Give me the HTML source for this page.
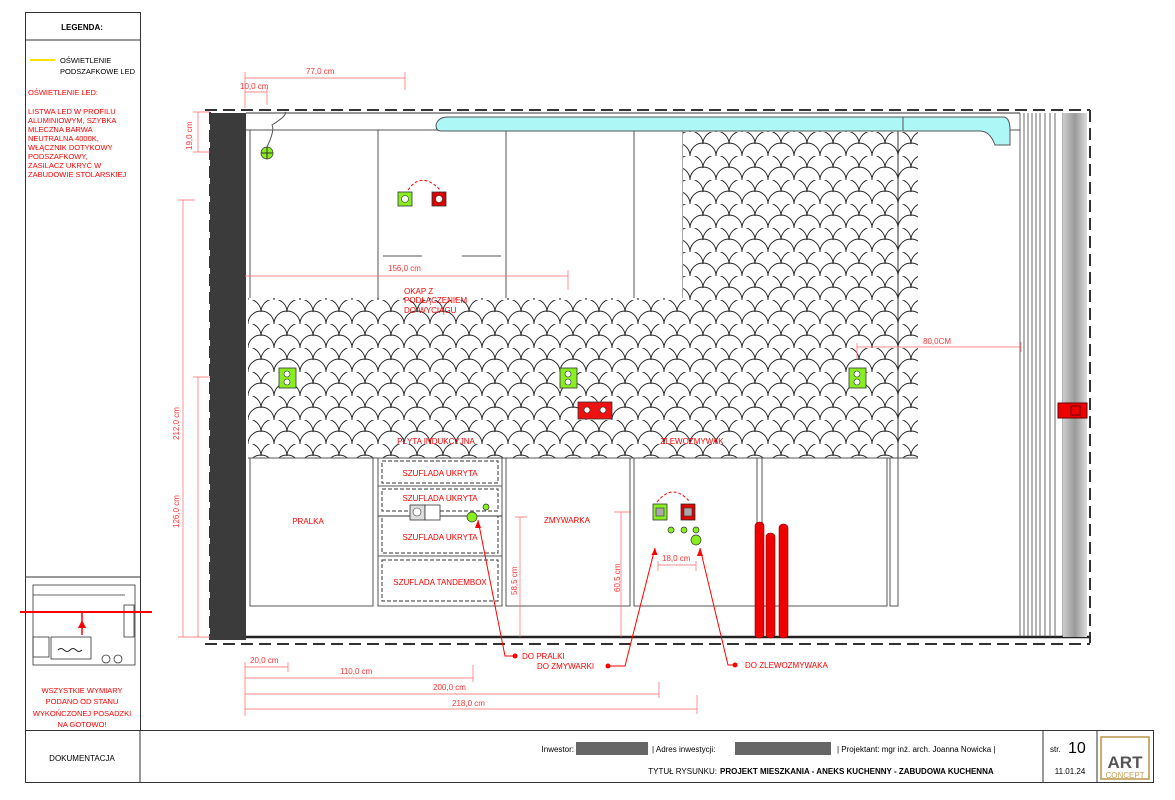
<!DOCTYPE html>
<html><head><meta charset="utf-8"><style>
body{margin:0;background:#fff;width:1175px;height:800px;overflow:hidden;font-family:"Liberation Sans","DejaVu Sans",sans-serif}
svg{position:absolute;left:0;top:0}
</style></head><body>
<svg width="1175" height="800" viewBox="0 0 1175 800" font-family="Liberation Sans, DejaVu Sans, sans-serif">
<defs>
<pattern id="sc" width="26" height="24" patternUnits="userSpaceOnUse" x="248" y="300">
<rect width="26" height="24" fill="#fff"/>
<path d="M-13 12 A13 13 0 0 1 13 12 M13 12 A13 13 0 0 1 39 12 M0 24 A13 13 0 0 1 26 24 M0 0 A13 13 0 0 1 26 0" fill="none" stroke="#222" stroke-width="0.9"/>
</pattern>
<linearGradient id="gg" x1="0" x2="1"><stop offset="0" stop-color="#ccc"/><stop offset="0.5" stop-color="#999"/><stop offset="1" stop-color="#ddd"/></linearGradient>
</defs>
<!-- left panel -->
<rect x="25.5" y="12.5" width="115" height="718" fill="none" stroke="#333"/>
<line x1="25" y1="40" x2="140" y2="40" stroke="#333"/>
<text x="82" y="30" font-size="8" font-weight="bold" text-anchor="middle">LEGENDA:</text>
<line x1="30" y1="60" x2="55" y2="60" stroke="#ffe000" stroke-width="2"/>
<text x="60" y="63" font-size="7.5">OŚWIETLENIE</text>
<text x="60" y="74" font-size="7.5">PODSZAFKOWE LED</text>
<g fill="#f00" font-size="7.5"><text x="28" y="95">OŚWIETLENIE LED:</text>
<text x="28" y="114">LISTWA LED W PROFILU</text><text x="28" y="123">ALUMINIOWYM, SZYBKA</text><text x="28" y="132">MLECZNA BARWA</text><text x="28" y="141">NEUTRALNA 4000K,</text><text x="28" y="150">WŁĄCZNIK DOTYKOWY</text><text x="28" y="159">PODSZAFKOWY,</text><text x="28" y="168">ZASILACZ UKRYĆ W</text><text x="28" y="177">ZABUDOWIE STOLARSKIEJ</text></g>
<line x1="25" y1="577" x2="140" y2="577" stroke="#333"/>
<g stroke="#333" fill="none" stroke-width="0.8"><rect x="33" y="585" width="102" height="80"/><rect x="33" y="637" width="16" height="20"/><rect x="51" y="637" width="40" height="22"/><rect x="124" y="605" width="10" height="32"/><line x1="33" y1="595" x2="125" y2="595"/><circle cx="106" cy="659" r="4"/><circle cx="118" cy="659" r="4"/></g>
<path d="M58 650 q3 -3 6 0 t6 0 t6 0 t6 0" stroke="#222" fill="none"/>
<line x1="20" y1="612" x2="152" y2="612" stroke="#f00" stroke-width="2"/>
<line x1="82" y1="612" x2="82" y2="635" stroke="#f00" stroke-width="1.5"/><path d="M78 628 L82 620 L86 628Z" fill="#f00"/>
<g fill="#f00" font-size="7.5" text-anchor="middle"><text x="82" y="693">WSZYSTKIE WYMIARY</text><text x="82" y="704">PODANO OD STANU</text><text x="82" y="716">WYKOŃCZONEJ POSADZKI</text><text x="82" y="727">NA GOTOWO!</text></g>
<!-- bottom title -->
<rect x="25.5" y="730.5" width="1128" height="52" fill="none" stroke="#333"/>
<line x1="140" y1="730" x2="140" y2="782" stroke="#333"/>
<line x1="1043" y1="730" x2="1043" y2="782" stroke="#333"/>
<line x1="1097" y1="730" x2="1097" y2="782" stroke="#333"/>
<text x="82" y="761" font-size="8" text-anchor="middle">DOKUMENTACJA</text>
<text x="574" y="752" font-size="8" text-anchor="end">Inwestor:</text>
<rect x="576" y="742" width="72" height="13" fill="#666"/>
<text x="652" y="752" font-size="8">|  Adres inwestycji:</text>
<rect x="735" y="742" width="96" height="13" fill="#666"/>
<text x="837" y="752" font-size="8">|   Projektant: mgr inż. arch. Joanna Nowicka  |</text>
<text x="717" y="774" font-size="8" text-anchor="end">TYTUŁ RYSUNKU:</text>
<text x="720" y="774" font-size="8" font-weight="bold">PROJEKT MIESZKANIA - ANEKS KUCHENNY - ZABUDOWA KUCHENNA</text>
<text x="1050" y="752" font-size="8">str.</text><text x="1068" y="753" font-size="16">10</text>
<text x="1070" y="774" font-size="8" text-anchor="middle">11.01.24</text>
<rect x="1101" y="737" width="48" height="42" fill="none" stroke="#b8964a" stroke-width="1.5"/>
<text x="1125" y="768" font-size="17" font-weight="bold" fill="#555" text-anchor="middle">ART</text>
<text x="1125" y="778" font-size="8" fill="#c9a055" text-anchor="middle">CONCEPT</text>
<!-- drawing frame -->
<line x1="205" y1="110" x2="1090" y2="110" stroke="#333" stroke-width="2" stroke-dasharray="12 6"/>
<line x1="1090" y1="110" x2="1090" y2="643" stroke="#333" stroke-width="2" stroke-dasharray="12 6"/>
<line x1="205" y1="644" x2="1090" y2="644" stroke="#333" stroke-width="2" stroke-dasharray="12 6"/>
<line x1="210" y1="112" x2="210" y2="640" stroke="#333" stroke-width="2" stroke-dasharray="12 6"/>
<rect x="210" y="113" width="36" height="527" fill="#3b3b3b"/>
<line x1="246" y1="113" x2="1020" y2="113" stroke="#333"/>
<line x1="246" y1="637" x2="1090" y2="637" stroke="#222" stroke-width="2.5"/>
<!-- upper cabinets -->
<line x1="246" y1="130" x2="1020" y2="130" stroke="#555"/>
<g stroke="#555" fill="none"><rect x="250" y="130" width="433" height="170"/><line x1="378" y1="130" x2="378" y2="300"/><line x1="506" y1="130" x2="506" y2="300"/><line x1="634" y1="130" x2="634" y2="300"/>
<line x1="383" y1="256" x2="422" y2="256"/><line x1="462" y1="256" x2="501" y2="256"/></g>
<!-- tiles -->
<path d="M248 298 H683 V130 H918 V458 H248 Z" fill="url(#sc)"/>
<line x1="898" y1="130" x2="898" y2="458" stroke="#333"/>
<line x1="248" y1="458" x2="918" y2="458" stroke="#555"/>
<!-- LED cyan -->
<path d="M448 117 H1003 Q1010 117 1010 130 V145 H995 Q990 131 980 131 H441 Q436 131 436 125 Q438 117 448 117Z" fill="#aef7f7" stroke="#555"/>
<line x1="903" y1="117" x2="903" y2="131" stroke="#555"/>
<!-- right column -->
<g stroke="#444" stroke-width="0.8"><line x1="1020" y1="113" x2="1020" y2="637"/><line x1="1024" y1="113" x2="1024" y2="637"/><line x1="1028" y1="113" x2="1028" y2="637"/><line x1="1032" y1="113" x2="1032" y2="637"/><line x1="1036" y1="113" x2="1036" y2="637"/><line x1="1040" y1="113" x2="1040" y2="637"/><line x1="1045" y1="113" x2="1045" y2="637"/><line x1="1050" y1="113" x2="1050" y2="637"/><line x1="1055" y1="113" x2="1055" y2="637"/><line x1="1063" y1="113" x2="1063" y2="637"/></g>
<rect x="1063" y="113" width="24" height="524" fill="url(#gg)"/>
<rect x="1058" y="403" width="29" height="15" fill="#e00" stroke="#600"/><rect x="1071" y="406" width="9" height="9" fill="none" stroke="#600"/>
<!-- base cabinets -->
<g stroke="#555" fill="none"><rect x="250" y="458" width="123" height="148"/><rect x="378" y="458" width="124" height="148"/><rect x="506" y="458" width="124" height="148"/><rect x="634" y="458" width="123" height="148"/><rect x="762" y="458" width="125" height="148"/><rect x="890" y="458" width="8" height="148"/>
<line x1="378" y1="486" x2="502" y2="486"/><line x1="378" y1="556" x2="502" y2="556"/></g>
<g stroke="#333" fill="none" stroke-dasharray="4 2"><rect x="382" y="461" width="116" height="22"/><rect x="382" y="489" width="116" height="22"/><rect x="382" y="516" width="116" height="37"/><rect x="382" y="560" width="116" height="41"/><line x1="378" y1="516" x2="502" y2="516"/></g>
<g fill="#f00" font-size="8" text-anchor="middle"><text x="308" y="524">PRALKA</text><text x="440" y="476">SZUFLADA UKRYTA</text><text x="440" y="501">SZUFLADA UKRYTA</text><text x="440" y="540">SZUFLADA UKRYTA</text><text x="440" y="585">SZUFLADA TANDEMBOX</text><text x="567" y="523">ZMYWARKA</text>
<text x="436" y="444">PŁYTA INDUKCYJNA</text><text x="692" y="444">ZLEWOZMYWAK</text></g>
<g fill="#f00" font-size="8"><text x="404" y="294">OKAP Z</text><text x="404" y="303">PODŁĄCZENIEM</text><text x="404" y="313">DO WYCIĄGU</text></g>
<!-- pipes -->
<g fill="#e00" stroke="#900" stroke-width="0.6"><rect x="755" y="522" width="9" height="116" rx="4"/><rect x="766" y="533" width="9" height="105" rx="4"/><rect x="779" y="524" width="9" height="114" rx="4"/></g>
<!-- sockets -->
<g stroke="#333" stroke-width="0.8">
<rect x="398" y="192" width="14" height="14" fill="#8e2"/><rect x="432" y="192" width="14" height="14" fill="#d00"/>
<rect x="279" y="368" width="17" height="20" fill="#8e2"/><rect x="560" y="368" width="17" height="20" fill="#8e2"/><rect x="849" y="368" width="17" height="20" fill="#8e2"/>
<rect x="578" y="402" width="34" height="17" fill="#e11"/>
<rect x="653" y="504" width="14" height="16" fill="#8e2"/><rect x="681" y="504" width="14" height="16" fill="#d00"/>
<rect x="410" y="505" width="15" height="15" fill="#ddd"/><rect x="425" y="505" width="15" height="15" fill="#fff"/>
</g>
<g fill="#fff" stroke="#333" stroke-width="0.6"><circle cx="405" cy="199" r="3.5"/><circle cx="439" cy="199" r="3.5"/><circle cx="287" cy="374" r="3"/><circle cx="287" cy="382" r="3"/><circle cx="568" cy="374" r="3"/><circle cx="568" cy="382" r="3"/><circle cx="857" cy="374" r="3"/><circle cx="857" cy="382" r="3"/><circle cx="587" cy="410" r="3"/><circle cx="603" cy="410" r="3"/><circle cx="417" cy="512" r="4"/><rect x="656" y="508" width="8" height="8" fill="#aaa"/><rect x="684" y="508" width="8" height="8" fill="#aaa"/></g>
<g fill="#8e2" stroke="#333" stroke-width="0.7"><circle cx="267" cy="153" r="6"/><circle cx="472" cy="517" r="5"/><circle cx="486" cy="507" r="3"/><circle cx="671" cy="530" r="3"/><circle cx="684" cy="530" r="3"/><circle cx="696" cy="530" r="3"/><circle cx="696" cy="540" r="5"/></g>
<path d="M261 153 H273 M267 147 V159" stroke="#333"/>
<path d="M267 147 Q275 130 272 125 Q288 115 285 112" fill="none" stroke="#555"/>
<path d="M408 190 Q422 170 441 191" fill="none" stroke="#f00" stroke-dasharray="3 2"/>
<path d="M657 502 Q673 482 690 502" fill="none" stroke="#f00" stroke-dasharray="3 2"/>
<!-- dimensions -->
<g stroke="#f66" stroke-width="0.7" fill="none">
<path d="M245 78 H405 M245 72 V108 M405 72 V90"/><path d="M245 92 H267 M267 88 V105"/>
<path d="M198 112 V152 M193 112 H210 M193 152 H210"/>
<path d="M183 200 V637 M178 200 H195 M178 637 H210"/><path d="M198 377 V637 M193 377 H210"/>
<path d="M245 276 H568 M568 270 V290"/>
<path d="M857 347 H1021 M857 343 V358 M1021 342 V352"/>
<path d="M520 517 V637 M515 517 H527"/><path d="M621 512 V637 M614 512 H631"/>
<path d="M658 565 H696 M658 561 V571 M696 561 V571"/>
<path d="M245 667 H288 M245 662 V716 M288 662 V672"/><path d="M245 678 H473 M473 665 V682"/><path d="M245 694 H659 M659 682 V698"/><path d="M245 709 H697 M697 695 V714"/>
</g>
<g fill="#f33" font-size="8"><text x="306" y="74">77,0 cm</text><text x="240" y="89">10,0 cm</text><text x="388" y="271">156,0 cm</text><text x="923" y="344">80,0CM</text>
<text x="250" y="663">20,0 cm</text><text x="340" y="674">110,0 cm</text><text x="433" y="690">200,0 cm</text><text x="452" y="706">218,0 cm</text><text x="662" y="561">18,0 cm</text>
<text transform="translate(192,150) rotate(-90)">19,0 cm</text><text transform="translate(179,440) rotate(-90)">212,0 cm</text><text transform="translate(179,528) rotate(-90)">126,0 cm</text><text transform="translate(517,595) rotate(-90)">58,5 cm</text><text transform="translate(620,592) rotate(-90)">60,5 cm</text></g>
<!-- leaders -->
<g stroke="#f00" fill="none" stroke-width="1"><path d="M515 656 H505 L478 520"/><path d="M608 666 H625 L655 548"/><path d="M735 665 H728 L700 548"/></g>
<g fill="#f00"><circle cx="515" cy="656" r="2.5"/><circle cx="608" cy="666" r="2.5"/><circle cx="735" cy="665" r="2.5"/>
<path d="M478 520 l-3 8 h6z"/><path d="M655 548 l-3.5 7 h6z"/><path d="M700 548 l-3 8 h6z"/></g>
<g fill="#f00" font-size="8"><text x="522" y="659">DO PRALKI</text><text x="537" y="669">DO ZMYWARKI</text><text x="745" y="668">DO ZLEWOZMYWAKA</text></g>
</svg>
</body></html>
